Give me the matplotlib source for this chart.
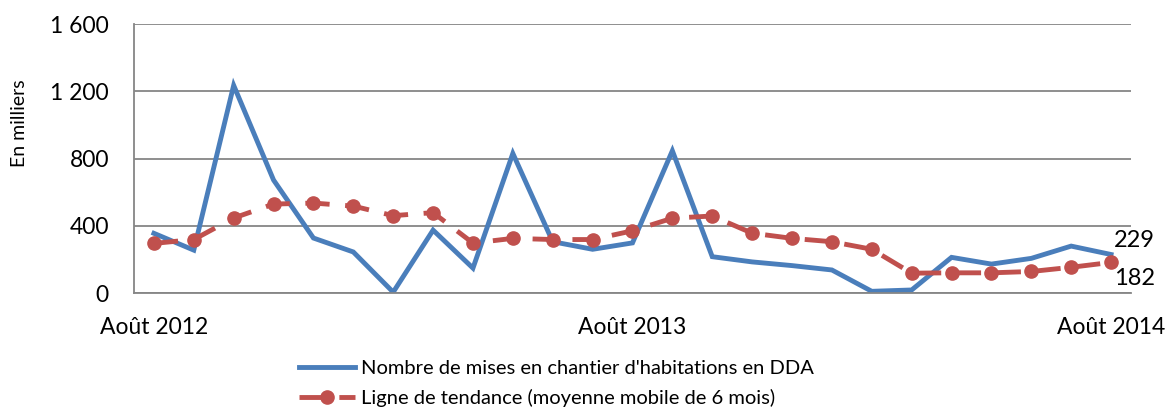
import numpy as np
import matplotlib
matplotlib.use('Agg')
import matplotlib.pyplot as plt

plt.rcParams['font.family'] = ['Lato', 'DejaVu Sans']

# valeurs mensuelles, août 2012 -> août 2014 (en milliers)
mises = [355, 255, 1235, 672, 327, 244, 5, 374, 148, 830, 305, 260, 298,
         846, 216, 185, 163, 137, 10, 18, 212, 172, 206, 279, 229]
tendance = [295, 318, 446, 529, 535, 517, 460, 478, 297, 325, 318, 318, 370,
            445, 458, 356, 325, 305, 260, 118, 120, 120, 128, 153, 182]
xlabels = {0: 'Août 2012', 12: 'Août 2013', 24: 'Août 2014'}
yticks = [0, 400, 800, 1200, 1600]

x = np.arange(len(mises))

fig = plt.figure(figsize=(11.69, 4.11), dpi=100)
ax = fig.add_axes([0.1146, 0.2871, 0.8529, 0.6545])

ax.plot(x, mises, color='#4A7EBB', lw=3.5, solid_joinstyle='miter',
        label="Nombre de mises en chantier d'habitations en DDA")
ax.plot(x, tendance, color='#C0504D', lw=3.5, ls=(0, (5, 3.2)),
        marker='o', ms=9.5, label='Ligne de tendance (moyenne mobile de 6 mois)')

ax.set_xlim(-0.5, len(mises) - 0.5)
ax.set_ylim(0, 1600)
ax.set_yticks(yticks)
ax.set_yticklabels([f'{v:,}'.replace(',', ' ') for v in yticks], fontsize=16.5)
ax.set_xticks(list(xlabels.keys()))
ax.set_xticklabels(list(xlabels.values()), fontsize=16.5)
ax.tick_params(length=0)
ax.tick_params(axis='x', pad=17)
ax.tick_params(axis='y', pad=18)
ax.grid(axis='y', color='#868686', lw=1.3)
ax.set_axisbelow(True)
for s in ['top', 'right']:
    ax.spines[s].set_visible(False)
for s in ['left', 'bottom']:
    ax.spines[s].set_color('#868686')
    ax.spines[s].set_linewidth(1.3)

ax.set_ylabel('En milliers', fontsize=14)
ax.yaxis.set_label_coords(-0.106, 0.63)

ax.annotate(str(mises[-1]), (x[-1], mises[-1]), xytext=(2, 10),
            textcoords='offset points', fontsize=17, va='center')
ax.annotate(str(tendance[-1]), (x[-1], tendance[-1]), xytext=(2, -11.5),
            textcoords='offset points', fontsize=17, va='center')

ax.legend(loc='upper center', bbox_to_anchor=(0.424, -0.18), frameon=False,
          fontsize=14.5, handlelength=2.8, labelspacing=0.62, handletextpad=0.3)

fig.savefig('out.png', dpi=100)
